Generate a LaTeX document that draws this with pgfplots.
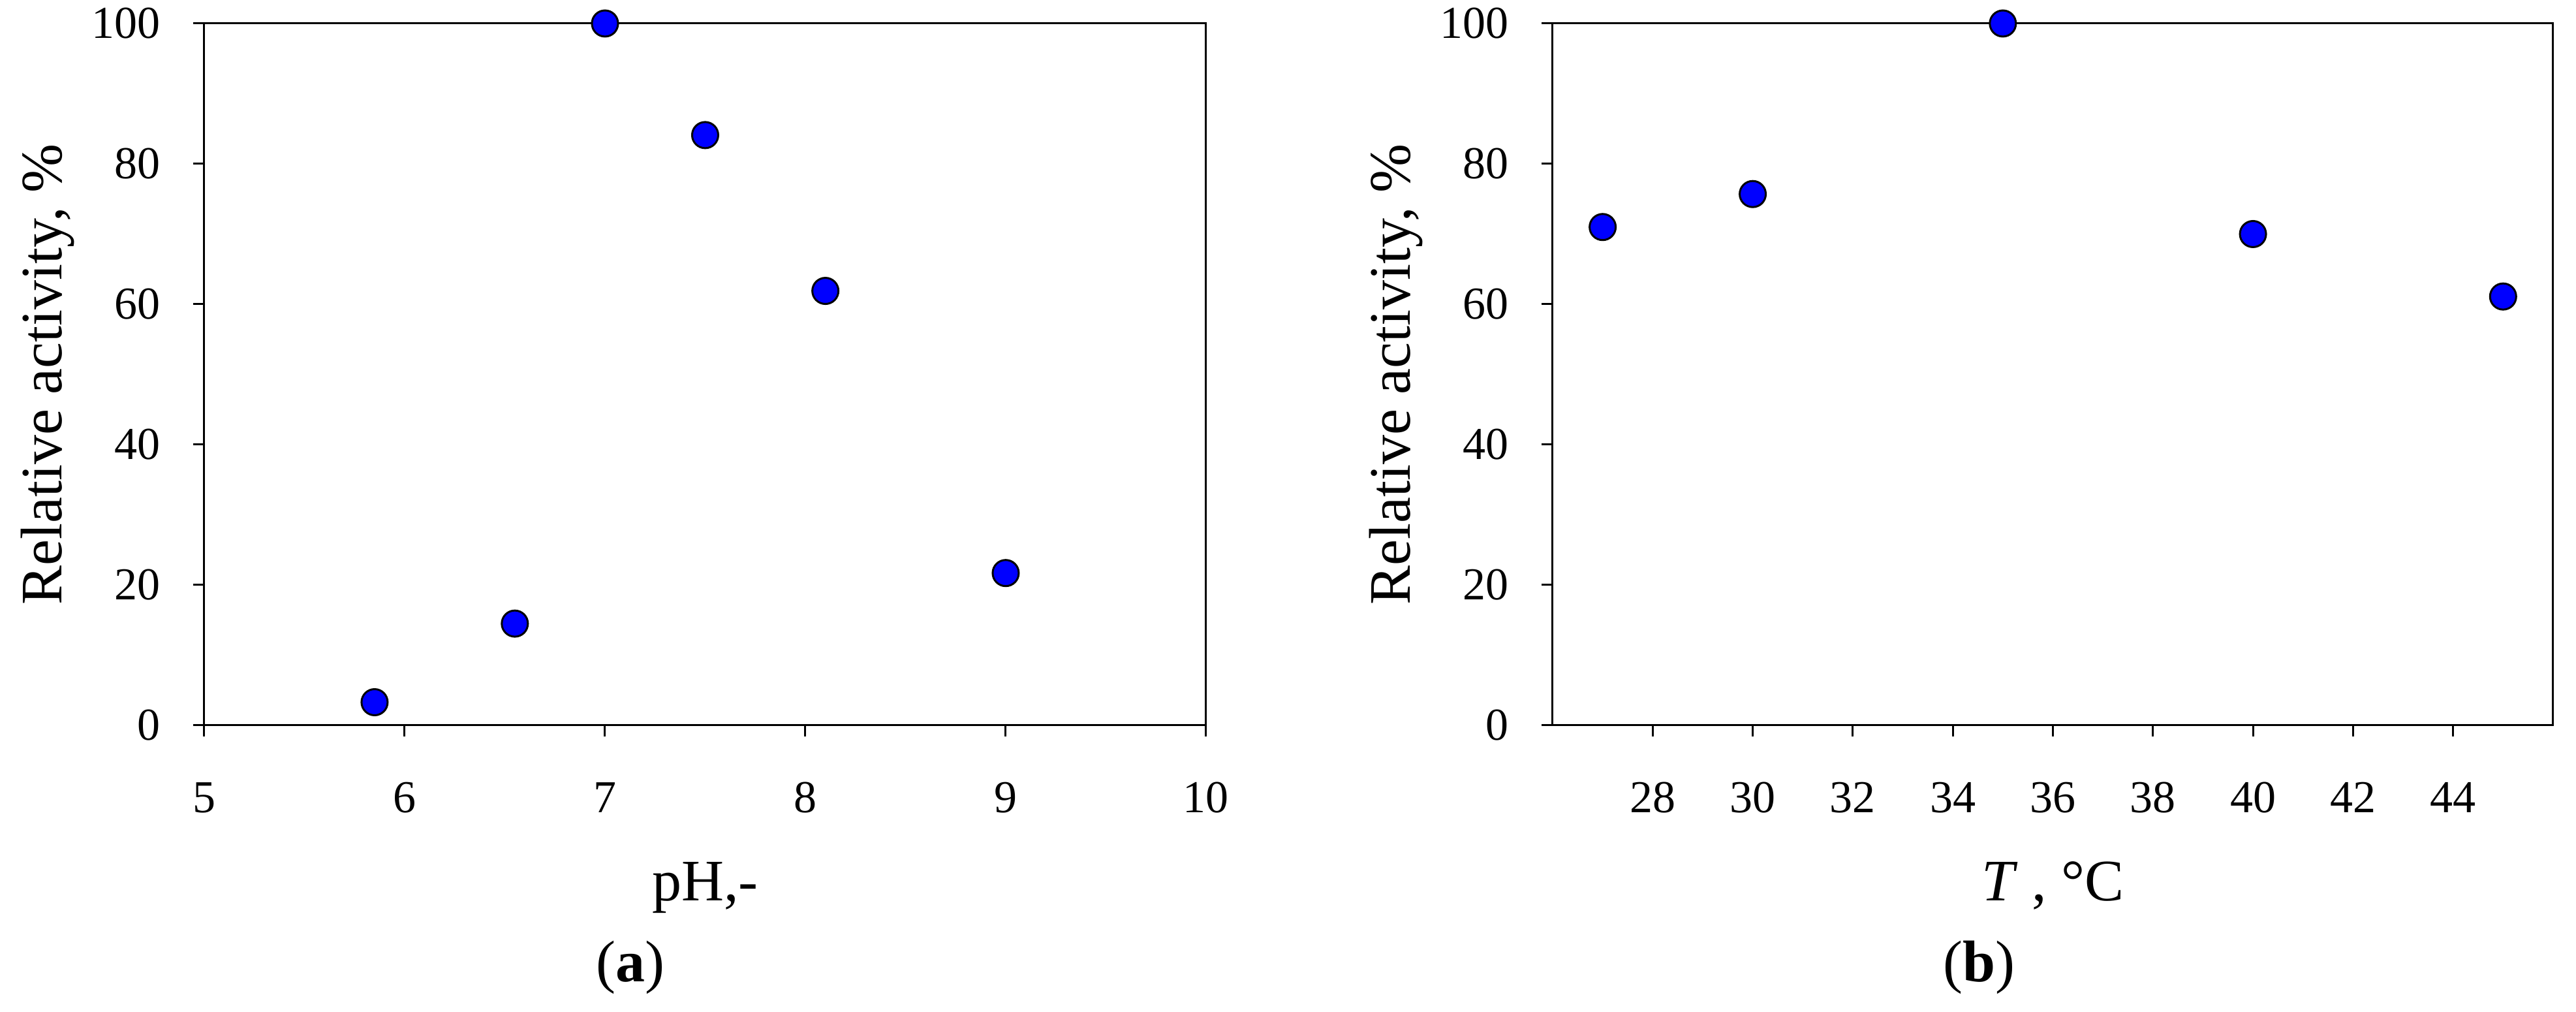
\documentclass[border=0pt]{standalone}
\usepackage{fontspec}
\setmainfont{Liberation Serif}
\usepackage{pgfplots}
\pgfplotsset{compat=1.18}

\pgfplotsset{
  panel/.style={
    scale only axis,
    anchor=south west,
    height=107.5pt,
    ymin=0, ymax=100,
    ytick={0,20,...,100},
    tick align=outside,
    xtick pos=bottom, ytick pos=left,
    major tick length=1.7pt,
    every tick/.style={black, line width=0.3pt},
    axis line style={line width=0.3pt},
    clip=false,
    /pgf/number format/assume math mode=true,
    tick label style={font=\fontsize{7}{8.4}\selectfont},
    xticklabel style={yshift=-3.5pt},
    yticklabel style={xshift=-1.5pt},
    label style={font=\fontsize{9}{10.8}\selectfont},
    ylabel={Relative activity, \%},
    ylabel style={at={(axis description cs:-0.1564,0.5)}, anchor=center},
    xlabel style={at={(axis description cs:0.5,-0.2502)}, anchor=base},
  },
  dots/.style={only marks, mark=*, mark size=2pt,
    mark options={fill=blue, draw=black, line width=0.3pt}},
}

\begin{document}
\begin{tikzpicture}
\useasboundingbox (0,0) rectangle (394.7pt,155pt);

% (a) pH
\begin{axis}[panel,
  at={(31.3pt,43.9pt)}, width=153.5pt,
  xmin=5, xmax=10, xtick={5,6,...,10},
  xlabel={pH,-}]
  \addplot[dots] coordinates {
    (5.85,3.3) (6.55,14.5) (7.0,100) (7.5,84.1) (8.1,61.9) (9.0,21.7)
  };
  \node[font=\fontsize{9}{10.8}\selectfont] at (axis description cs:0.4254,-0.345) {(\textbf{a})};
\end{axis}

% (b) temperature
\begin{axis}[panel,
  at={(237.9pt,43.9pt)}, width=153.3pt,
  xmin=26, xmax=46, xtick={28,30,...,44},
  xlabel={\textit{T} , °C}]
  \addplot[dots] coordinates {
    (27,71.0) (30,75.7) (35,100) (40,70.0) (45,61.1)
  };
  \node[font=\fontsize{9}{10.8}\selectfont] at (axis description cs:0.4266,-0.345) {(\textbf{b})};
\end{axis}
\end{tikzpicture}
\end{document}
